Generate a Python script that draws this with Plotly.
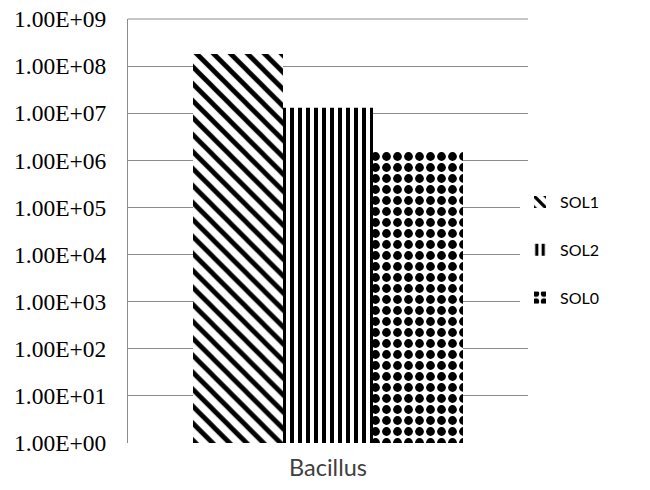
import plotly.graph_objects as go

categories = ["Bacillus"]
series_names = ["SOL1", "SOL2", "SOL0"]
sol1 = [1.8e8]
sol2 = [1.3e7]
sol0 = [1.6e6]
tick_vals = [1e0, 1e1, 1e2, 1e3, 1e4, 1e5, 1e6, 1e7, 1e8, 1e9]
tick_text = ["1.00E+00", "1.00E+01", "1.00E+02", "1.00E+03", "1.00E+04",
             "1.00E+05", "1.00E+06", "1.00E+07", "1.00E+08", "1.00E+09"]

values = [sol1, sol2, sol0]
patterns = [dict(shape="\\", size=12, solidity=0.4),
            dict(shape="|", size=8, solidity=0.5),
            dict(shape=".", size=11, solidity=0.5)]

fig = go.Figure()
for name, vals, pat in zip(series_names, values, patterns):
    fig.add_trace(go.Bar(
        x=categories, y=vals, name=name, legendgroup=name,
        marker=dict(color="white", line=dict(width=0),
                    pattern=dict(fgcolor="black", bgcolor="white", fgopacity=1,
                                 fillmode="overlay", **pat)),
    ))

fig.update_layout(
    width=650, height=490,
    margin=dict(l=128, r=122, t=19, b=47, autoexpand=False),
    paper_bgcolor="white", plot_bgcolor="white",
    barmode="group", bargap=0.325, bargroupgap=0.0,
    showlegend=True,
    legend=dict(x=0.98, y=0.455, xanchor="left", yanchor="middle",
                traceorder="grouped", tracegroupgap=24,
                font=dict(family="Lato", size=16, color="#000000"),
                itemwidth=30),
    xaxis=dict(showline=False, showgrid=False, ticks="", ticklabelstandoff=8,
               automargin=False,
               tickfont=dict(family="Lato", size=23.5, color="#404040")),
    yaxis=dict(type="log", range=[0, 9], tickvals=tick_vals, ticktext=tick_text,
               showgrid=True, gridcolor="#8c8c8c", gridwidth=1,
               showline=True, linecolor="#8c8c8c", linewidth=1,
               zeroline=False, ticks="", ticklabelstandoff=16, automargin=False,
               ticklabeloverflow="allow",
               tickfont=dict(family="Liberation Serif", size=23.5, color="#000000")),
    shapes=[dict(type="line", xref="paper", yref="paper", x0=0, x1=1, y0=1, y1=1,
                 line=dict(color="#8c8c8c", width=1), layer="below")],
)

fig.write_html("out.html", config={"displayModeBar": False},
               post_script="document.body.style.margin='0';document.body.style.overflow='hidden';")
